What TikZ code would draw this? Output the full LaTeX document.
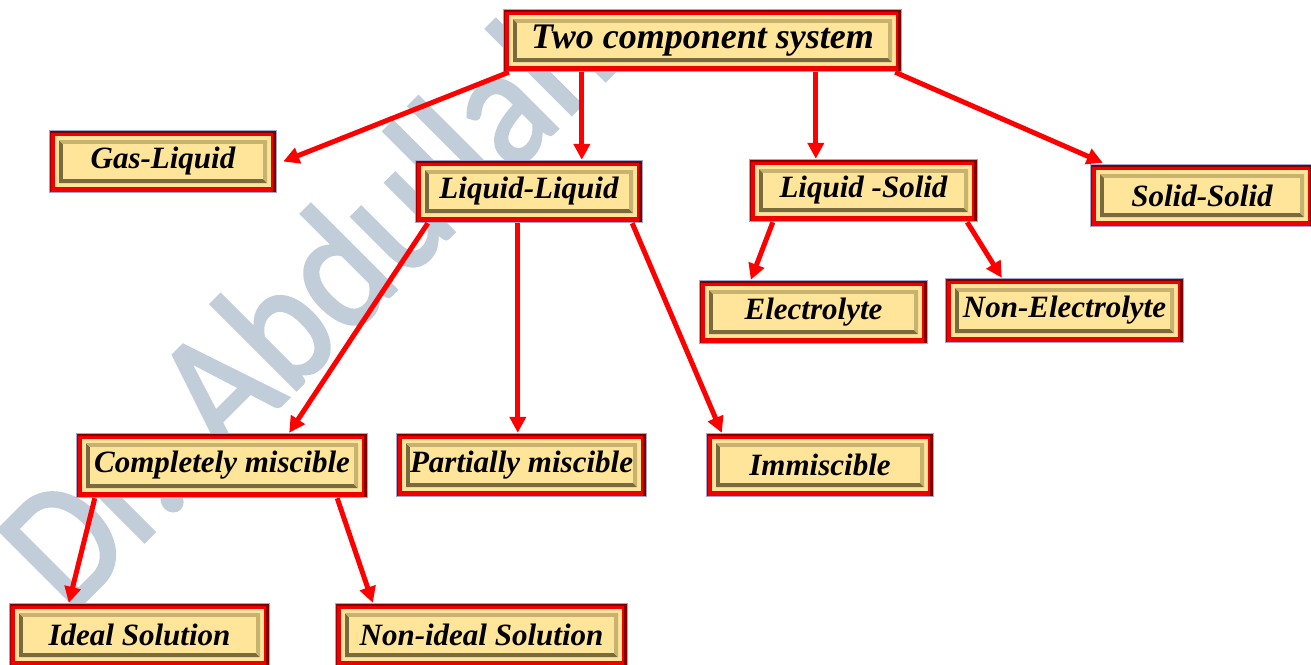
\documentclass[tikz,border=0pt]{standalone}
\usepackage{fontspec}
\setmainfont{Liberation Serif}
\newfontfamily\wmfont[FakeBold=2]{Carlito}
\usetikzlibrary{arrows.meta}
\definecolor{framered}{RGB}{240,0,0}
\definecolor{framedark}{RGB}{128,0,0}
\definecolor{boxfill}{RGB}{255,229,153}
\definecolor{beveldark}{RGB}{122,106,64}
\definecolor{bevellight}{RGB}{200,178,112}
\definecolor{edgeblue}{RGB}{160,168,210}
\definecolor{arrred}{RGB}{255,0,0}
\definecolor{wmcolor}{RGB}{194,205,218}
\tikzset{
  fbox/.style={rectangle, inner sep=0pt, text=black,
    font=\bfseries\itshape\fontsize{31}{31}\selectfont,
    path picture={
      \path (path picture bounding box.south west) coordinate (pSW)
            (path picture bounding box.north east) coordinate (pNE);
      \path (pSW |- pNE) coordinate (pNW) (pNE |- pSW) coordinate (pSE);
      \fill[framered] (pSW) rectangle (pNE);
      \fill[framedark] ([xshift=-4pt]pNE) rectangle (pSE);
      \fill[framedark] ([yshift=-2.5pt]pNE) rectangle (pNW);
      \fill[framedark!70!framered] ([xshift=1.5pt]pNW) rectangle (pSW);
      \fill[boxfill] ([shift={(6pt,6pt)}]pSW) rectangle ([shift={(-6pt,-6pt)}]pNE);
      \fill[beveldark] ([shift={(10pt,10pt)}]pSW) -- ([shift={(10pt,-10pt)}]pNW)
          -- ([shift={(14pt,-14pt)}]pNW) -- ([shift={(14pt,14pt)}]pSW)
          -- ([shift={(-14pt,14pt)}]pSE) -- ([shift={(-10pt,10pt)}]pSE) -- cycle;
      \fill[bevellight] ([shift={(10pt,-10pt)}]pNW) -- ([shift={(-10pt,-10pt)}]pNE)
          -- ([shift={(-10pt,10pt)}]pSE) -- ([shift={(-14pt,14pt)}]pSE)
          -- ([shift={(-14pt,-14pt)}]pNE) -- ([shift={(14pt,-14pt)}]pNW) -- cycle;
      \fill[boxfill] ([shift={(14pt,14pt)}]pSW) rectangle ([shift={(-14pt,-14pt)}]pNE);
      \draw[edgeblue, line width=1pt] ([shift={(.5pt,.5pt)}]pSW) rectangle ([shift={(-.5pt,-.5pt)}]pNE);
    }},
  titlefont/.style={font=\bfseries\itshape\fontsize{36}{36}\selectfont},
  arr/.style={draw=arrred, line width=5pt,
    -{Triangle[length=16pt, width=16pt, fill=arrred]}},
  wm/.style={text=wmcolor, font=\wmfont\fontsize{155}{155}\selectfont, inner sep=0pt}
}
\begin{document}
\begin{tikzpicture}[x=1pt,y=-1pt]
\useasboundingbox (0,0) rectangle (1311,664);
% watermark
\node[wm, anchor=base west, rotate=45] (mark) at (70,616) {\scalebox{1}[1.12]{Dr. Abdullah}};
% boxes
\node[fbox, titlefont, minimum width=399pt, minimum height=63pt] (title) at (702.5,40.5) {Two component system};
\node[fbox, minimum width=228pt, minimum height=63pt] (gas) at (163,161.5) {Gas-Liquid};
\node[fbox, minimum width=228pt, minimum height=63pt] (ll) at (529,191.5) {Liquid-Liquid};
\node[fbox, minimum width=229pt, minimum height=63pt] (ls) at (863.5,190.5) {Liquid -Solid};
\node[fbox, minimum width=224pt, minimum height=63pt] (ss) at (1202,195.5) {Solid-Solid};
\node[fbox, minimum width=229pt, minimum height=64pt] (el) at (813.5,312) {Electrolyte};
\node[fbox, minimum width=239pt, minimum height=65pt] (ne) at (1064.5,310.5) {Non-Electrolyte};
\node[fbox, minimum width=292pt, minimum height=65pt] (cm) at (222,465.5) {Completely miscible};
\node[fbox, minimum width=251pt, minimum height=64pt] (pm) at (521.5,465) {Partially miscible};
\node[fbox, minimum width=228pt, minimum height=64pt] (im) at (820,465) {Immiscible};
\node[fbox, minimum width=261pt, minimum height=64pt] (is) at (139.5,635) {Ideal Solution};
\node[fbox, minimum width=293pt, minimum height=64pt] (ni) at (481.5,635) {Non-ideal Solution};
% connectors
\draw[arr] ([xshift=6pt]title.south west) -- ([xshift=6pt]gas.east);
\draw[arr] ([xshift=79pt]title.south west) -- ([xshift=79pt]title.south west |- ll.north);
\draw[arr] ([xshift=313pt]title.south west) -- ([xshift=313pt]title.south west |- ls.north);
\draw[arr] ([xshift=-7pt]title.south east) -- ([xshift=13pt,yshift=1pt]ss.north west);
\draw[arr] ([xshift=13pt]ll.south west) -- ([xshift=-79pt]cm.north east);
\draw[arr] ([xshift=103pt]ll.south west) -- ([xshift=103pt]ll.south west |- pm.north);
\draw[arr] ([xshift=-11pt]ll.south east) -- ([xshift=16pt]im.north west);
\draw[arr] ([xshift=24pt]ls.south west) -- ([xshift=52pt]el.north west);
\draw[arr] ([xshift=-11pt]ls.south east) -- ([xshift=57pt]ne.north west);
\draw[arr] ([xshift=19pt]cm.south west) -- ([xshift=60pt]is.north west);
\draw[arr] ([xshift=-31pt]cm.south east) -- ([xshift=38pt]ni.north west);
\end{tikzpicture}
\end{document}
